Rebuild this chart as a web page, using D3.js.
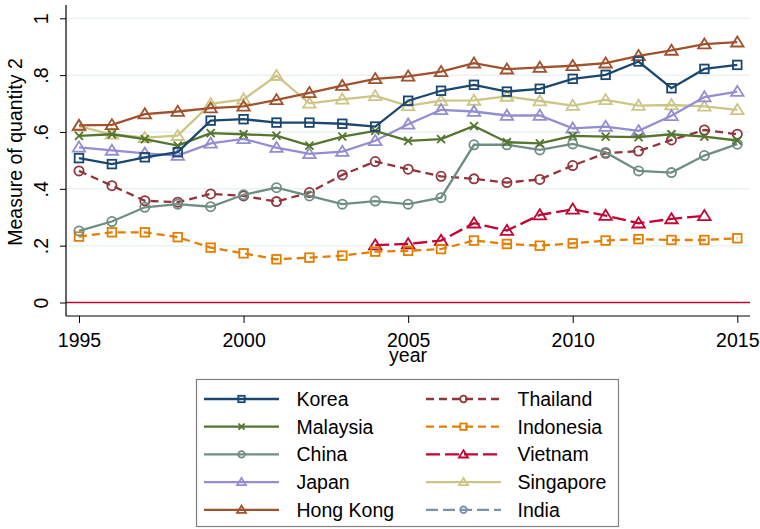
<!DOCTYPE html>
<html><head><meta charset="utf-8">
<script src="https://cdn.jsdelivr.net/npm/d3@7"></script>
<style>body{margin:0;background:#fff}svg{display:block;font-family:"Liberation Sans",Arial,sans-serif}</style>
</head><body><svg id="c" width="760" height="529"></svg>
<script>
const years = [1995,1996,1997,1998,1999,2000,2001,2002,2003,2004,2005,2006,2007,2008,2009,2010,2011,2012,2013,2014,2015];
const korea     = [0.508,0.487,0.511,0.529,0.640,0.645,0.633,0.633,0.629,0.619,0.710,0.745,0.766,0.742,0.752,0.787,0.801,0.848,0.754,0.822,0.836];
const malaysia  = [0.586,0.592,0.575,0.552,0.596,0.592,0.587,0.552,0.584,0.604,0.569,0.575,0.621,0.564,0.560,0.586,0.584,0.582,0.592,0.584,0.570];
const china     = [0.252,0.285,0.335,0.346,0.337,0.379,0.404,0.375,0.346,0.357,0.346,0.369,0.555,0.555,0.537,0.558,0.528,0.463,0.457,0.517,0.557];
const japan     = [0.546,0.535,0.525,0.517,0.560,0.576,0.545,0.523,0.531,0.569,0.627,0.678,0.672,0.658,0.658,0.613,0.619,0.604,0.657,0.723,0.742];
const hongkong  = [0.623,0.625,0.663,0.672,0.684,0.690,0.713,0.738,0.763,0.787,0.796,0.812,0.842,0.821,0.827,0.833,0.842,0.868,0.887,0.909,0.916];
const thailand  = [0.463,0.411,0.358,0.353,0.382,0.375,0.355,0.387,0.449,0.496,0.469,0.444,0.435,0.422,0.433,0.482,0.525,0.533,0.572,0.607,0.592];
const indonesia = [0.232,0.247,0.247,0.230,0.193,0.173,0.152,0.158,0.165,0.179,0.182,0.188,0.218,0.206,0.200,0.208,0.218,0.223,0.220,0.220,0.226];
const vietnam   = [null,null,null,null,null,null,null,null,null,0.202,0.206,0.218,0.279,0.253,0.308,0.328,0.306,0.279,0.294,0.305,null];
const singapore = [0.620,0.592,0.580,0.587,0.699,0.715,0.798,0.701,0.715,0.727,0.692,0.710,0.711,0.725,0.709,0.693,0.713,0.693,0.695,0.690,0.678];
const india     = [null,null,null,null,null,null,null,null,null,null,null,null,null,null,null,null,null,null,null,null,null];
const yTicks = [0,0.2,0.4,0.6,0.8,1];
const yTickLabels = ["0",".2",".4",".6",".8","1"];
const xTicks = [1995,2000,2005,2010,2015];

const seriesNames = ["Korea","Malaysia","China","Japan","Hong Kong","Thailand","Indonesia","Vietnam","Singapore","India"];
const seriesData = [korea,malaysia,china,japan,hongkong,thailand,indonesia,vietnam,singapore,india];
const seriesColor = ["#1a476f","#55752f","#6e8e84","#938dd2","#a0522d","#90353b","#e37e00","#c10534","#cdc585","#7b92a8"];
const seriesMarker = ["square","x","circle","triangle","triangle","circle","square","triangle","triangle","circle"];
const seriesDash = [null,null,null,null,null,"8,5","8,5","14,5",null,"12,5"];

const svg = d3.select("#c");
const x = d3.scaleLinear().domain([1995,2015]).range([79,737.3]);
const y = d3.scaleLinear().domain([0,1]).range([302.5,18.3]);
const L=66, R=750, T=5, B=316;
const font = 19.5;

// gridlines
svg.append("g").selectAll("line").data(yTicks.filter(d=>d>0)).join("line")
  .attr("x1",L).attr("x2",R).attr("y1",d=>y(d)).attr("y2",d=>y(d))
  .attr("stroke","#eaf2f3").attr("stroke-width",1.5);
// zero line
svg.append("line").attr("x1",L).attr("x2",R).attr("y1",y(0)).attr("y2",y(0))
  .attr("stroke","#c10534").attr("stroke-width",1.5);

// axes
const yAxis = d3.axisLeft(y).tickValues(yTicks).tickFormat((d,i)=>yTickLabels[i]).tickSize(6).tickSizeOuter(0);
const gy = svg.append("g").attr("transform",`translate(${L},0)`).call(yAxis);
gy.select(".domain").attr("d",`M0,${T}V${B}`).attr("stroke","#000").attr("stroke-width",1.2);
gy.selectAll(".tick line").attr("stroke","#000");
gy.selectAll(".tick text").attr("font-size",font).attr("fill","#000")
  .attr("text-anchor","middle").attr("x",null).attr("dy",null)
  .attr("transform","translate(-18,0) rotate(-90)");

const xAxis = d3.axisBottom(x).tickValues(xTicks).tickFormat(d3.format("d")).tickSize(7).tickSizeOuter(0);
const gx = svg.append("g").attr("transform",`translate(0,${B})`).call(xAxis);
gx.select(".domain").attr("d",`M${L},0H${R}`).attr("stroke","#000").attr("stroke-width",1.2);
gx.selectAll(".tick line").attr("stroke","#000");
gx.selectAll(".tick text").attr("font-size",font).attr("fill","#000").attr("y",31).attr("dy",null);

svg.append("text").attr("x",408).attr("y",361.5).attr("text-anchor","middle")
  .attr("font-size",font).text("year");
svg.append("text").attr("transform","translate(21.5,152) rotate(-90)").attr("text-anchor","middle")
  .attr("font-size",font).text("Measure of quantity 2");

function marker(g, type, cx, cy, color, s){
  if(type==="square"){
    g.append("rect").attr("x",cx-s).attr("y",cy-s).attr("width",2*s).attr("height",2*s)
      .attr("fill","none").attr("stroke",color).attr("stroke-width",1.8);
  } else if(type==="circle"){
    g.append("circle").attr("cx",cx).attr("cy",cy).attr("r",s)
      .attr("fill","none").attr("stroke",color).attr("stroke-width",1.8);
  } else if(type==="triangle"){
    const h=s*1.15;
    g.append("path").attr("d",`M${cx},${cy-h}L${cx+s*1.25},${cy+h*0.75}L${cx-s*1.25},${cy+h*0.75}Z`)
      .attr("fill","none").attr("stroke",color).attr("stroke-width",1.8);
  } else if(type==="x"){
    g.append("path").attr("d",`M${cx-s},${cy-s}L${cx+s},${cy+s}M${cx-s},${cy+s}L${cx+s},${cy-s}`)
      .attr("fill","none").attr("stroke",color).attr("stroke-width",1.8);
  }
}

const line = d3.line().defined(d=>d[1]!=null).x(d=>x(d[0])).y(d=>y(d[1]));
const sizes = {square:4.3,circle:4.6,triangle:5,x:4};
// draw in reverse order so Korea on top
for(let i=seriesNames.length-1;i>=0;i--){
  const pts = years.map((yr,j)=>[yr,seriesData[i][j]]);
  const g = svg.append("g");
  g.append("path").attr("d",line(pts)).attr("fill","none").attr("stroke",seriesColor[i])
    .attr("stroke-width",2.3).attr("stroke-dasharray",seriesDash[i]);
  pts.filter(p=>p[1]!=null).forEach(p=>marker(g,seriesMarker[i],x(p[0]),y(p[1]),seriesColor[i],sizes[seriesMarker[i]]));
}

// legend
const lg = svg.append("g");
lg.append("rect").attr("x",196.5).attr("y",379.5).attr("width",422).attr("height",147)
  .attr("fill","#fff").attr("stroke","#808080").attr("stroke-width",1.2);
const lsizes = {square:3.2,circle:3.3,triangle:3.6,x:3};
seriesNames.forEach((name,i)=>{
  const col = Math.floor(i/5), row = i%5;
  const ly = 399 + row*27.7;
  const x0 = col===0?204:426, x1 = col===0?279:501, tx = col===0?296.5:517.5;
  lg.append("line").attr("x1",x0).attr("x2",x1).attr("y1",ly).attr("y2",ly)
    .attr("stroke",seriesColor[i]).attr("stroke-width",2.3).attr("stroke-dasharray",seriesDash[i]);
  marker(lg,seriesMarker[i],(x0+x1)/2,ly,seriesColor[i],lsizes[seriesMarker[i]]);
  lg.append("text").attr("x",tx).attr("y",ly+7).attr("font-size",font).text(name);
});
</script></body></html>
